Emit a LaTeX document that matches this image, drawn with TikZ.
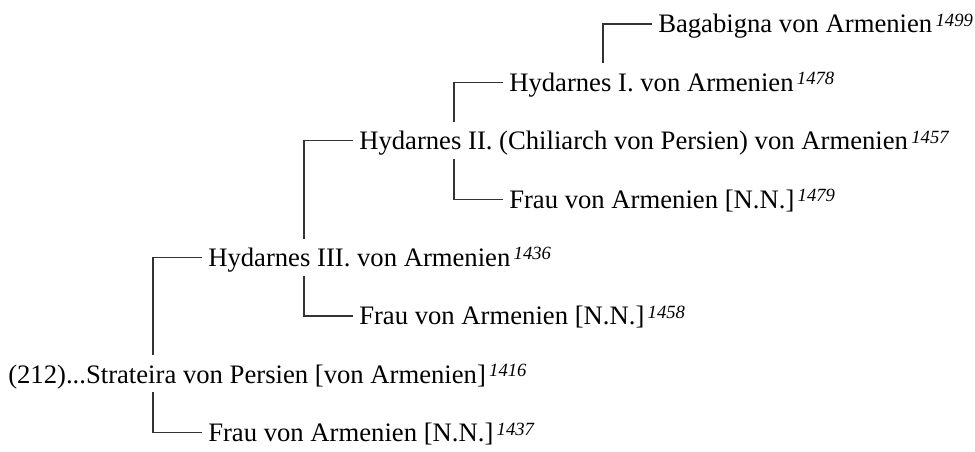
\documentclass[tikz,border=0pt]{standalone}
\usepackage{fontspec}
\setmainfont{Liberation Serif}
\usetikzlibrary{calc}
\newcommand\birthyr[1]{\hspace{2.5pt}\raisebox{5pt}{\fontsize{14}{14}\selectfont\itshape #1}}
\newcommand\famlink[3]{%
  \coordinate (tmpP) at ([yshift=#3]#2.base);
  \draw[link] ([shift={(-6,-9)}]#1.base west) -- ++(-49,0) coordinate (tmpT) -- (tmpT |- tmpP);}
\begin{document}
\begin{tikzpicture}[x=0.75pt,y=-0.75pt,
  person/.style={anchor=base west, inner sep=0pt, font=\fontsize{20}{24}\selectfont},
  link/.style={line width=0.9pt, draw=black!80}]
\useasboundingbox (0,0) rectangle (975,452);
% rows: 24, 82.4, 140.8, 199.2, 257.6, 316, 374.4, 432.8 ; baseline = row + 9
\node[person] (bag)   at (658,33)    {Bagabigna von Armenien\birthyr{1499}};
\node[person] (hyd1)  at (509,91.4)  {Hydarnes I. von Armenien\birthyr{1478}};
\node[person] (hyd2)  at (359,149.8) {Hydarnes II. (Chiliarch von Persien) von Armenien\birthyr{1457}};
\node[person] (frau3) at (509,208.2) {Frau von Armenien [N.N.]\birthyr{1479}};
\node[person] (hyd3)  at (208,266.6) {Hydarnes III. von Armenien\birthyr{1436}};
\node[person] (frau2) at (359,325)   {Frau von Armenien [N.N.]\birthyr{1458}};
\node[person] (strat) at (8,383.4)   {(212)...Strateira von Persien [von Armenien]\birthyr{1416}};
\node[person] (frau1) at (208,441.8) {Frau von Armenien [N.N.]\birthyr{1437}};
\famlink{bag}{hyd1}{21pt}
\famlink{hyd1}{hyd2}{21pt}
\famlink{frau3}{hyd2}{-6.75pt}
\famlink{hyd2}{hyd3}{21pt}
\famlink{frau2}{hyd3}{-6.75pt}
\famlink{hyd3}{strat}{21pt}
\famlink{frau1}{strat}{-6.75pt}
\end{tikzpicture}
\end{document}
